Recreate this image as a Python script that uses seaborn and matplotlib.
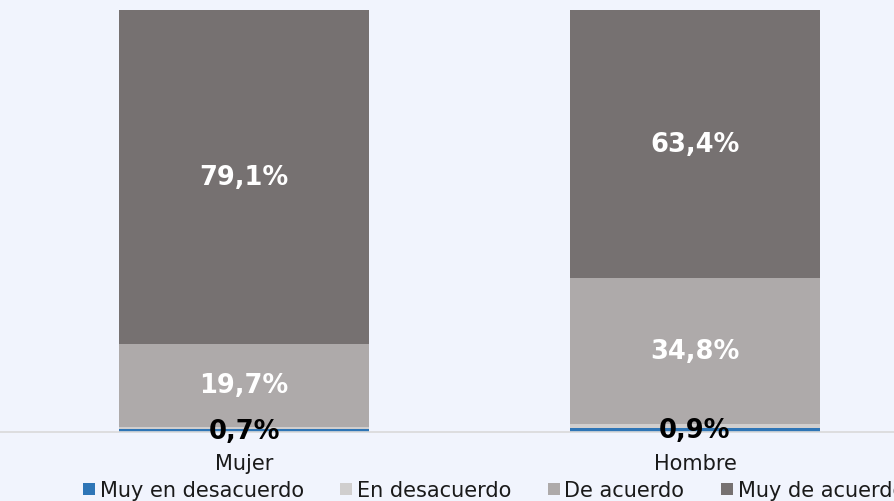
import pandas as pd
import matplotlib
matplotlib.use("Agg")
import matplotlib.pyplot as plt
import seaborn as sns
from matplotlib.lines import Line2D

# valores (%)
grupos = ["Mujer", "Hombre"]
categorias = ["Muy en desacuerdo", "En desacuerdo", "De acuerdo", "Muy de acuerdo"]
muy_en_desacuerdo = [0.7, 0.9]
en_desacuerdo = [0.5, 0.9]
de_acuerdo = [19.7, 34.8]
muy_de_acuerdo = [79.1, 63.4]
colores = ["#2e75b6", "#d0cece", "#aeaaaa", "#767171"]

df = pd.DataFrame({"grupo": grupos,
                   "Muy en desacuerdo": muy_en_desacuerdo,
                   "En desacuerdo": en_desacuerdo,
                   "De acuerdo": de_acuerdo,
                   "Muy de acuerdo": muy_de_acuerdo})
acum = df[categorias].cumsum(axis=1)

bg = "#f1f4fd"
sns.set_style("white")
plt.rcParams["font.family"] = ["DejaVu Sans"]

fig = plt.figure(figsize=(8.94, 5.02), dpi=100, facecolor=bg)
ax = fig.add_axes([0, 69 / 502, 1, 422 / 502])
ax.set_facecolor(bg)

# barras apiladas: se dibujan los acumulados de mayor a menor
for cat, col in reversed(list(zip(categorias, colores))):
    sns.barplot(x=df["grupo"], y=acum[cat], color=col, width=0.554,
                saturation=1, ax=ax, linewidth=0, zorder=2)

# etiquetas
for i in range(len(grupos)):
    base = 0
    for cat in categorias:
        v = df[cat][i]
        mid = base + v / 2
        txt = f"{v:.1f}%".replace(".", ",")
        if cat == "Muy en desacuerdo":
            ax.text(i, mid, txt, ha="center", va="center",
                    fontsize=18.5, fontweight="bold", color="black", zorder=5)
        elif cat in ("De acuerdo", "Muy de acuerdo"):
            ax.text(i, mid, txt, ha="center", va="center",
                    fontsize=18.5, fontweight="bold", color="white", zorder=5)
        base += v

ax.set_ylim(0, 100)
ax.set_xlim(-244 / 451, 1 + 199 / 451)
ax.set_yticks([])
ax.set_xlabel("")
ax.set_ylabel("")
ax.tick_params(axis="x", length=0, labelsize=15, pad=15, labelcolor="#1a1a1a")
for s in ["top", "left", "right"]:
    ax.spines[s].set_visible(False)
ax.spines["bottom"].set_color("#d9d9d9")
ax.spines["bottom"].set_linewidth(1.2)

handles = [Line2D([], [], marker="s", linestyle="none", markersize=8,
                  markerfacecolor=c, markeredgewidth=0) for c in colores]
fig.legend(handles, categorias, loc="center left", bbox_to_anchor=(0.094, 0.022),
           ncol=4, frameon=False, fontsize=15, handletextpad=0.25,
           columnspacing=1.8, handlelength=0.5, borderaxespad=0, borderpad=0,
           labelcolor="#1a1a1a")

fig.savefig("out.png", dpi=100, facecolor=bg)
